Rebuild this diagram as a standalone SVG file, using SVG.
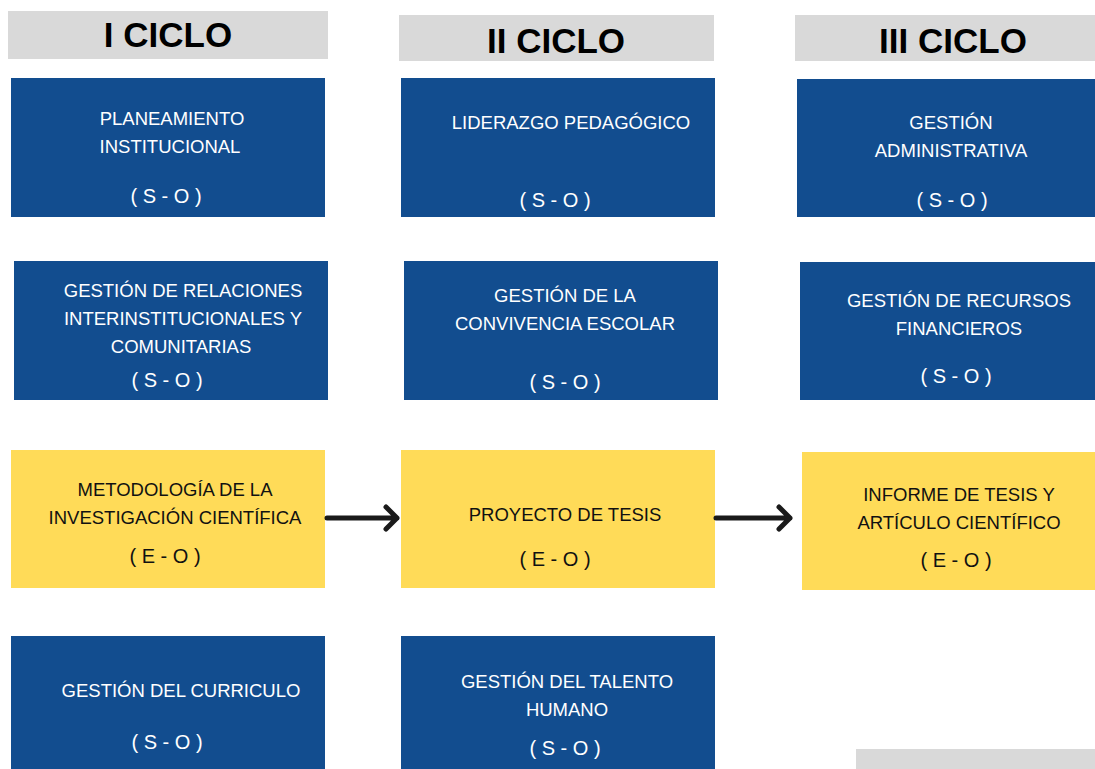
<svg xmlns="http://www.w3.org/2000/svg" width="1095" height="769" viewBox="0 0 1095 769">
<style>
.hdr{fill:#d9d9d9}
.hdrt{font-family:"Liberation Sans",Arial,sans-serif;font-weight:bold;font-size:35px;fill:#000;text-anchor:middle}
.blue{fill:#124d8f}
.yel{fill:#ffdb58}
.wt{font-family:"Liberation Sans",Arial,sans-serif;font-size:18.5px;fill:#fff;text-anchor:middle}
.bt{font-family:"Liberation Sans",Arial,sans-serif;font-size:18.5px;fill:#111;text-anchor:middle}
.tag{font-size:20px}
.conn{fill:none;stroke:#1a1a1a;stroke-width:5;stroke-linecap:round;stroke-linejoin:round}
</style>
<rect width="1095" height="769" fill="#fff"/>
<g id="h1"><rect class="hdr" x="8" y="11" width="320" height="48"/><text class="hdrt" x="168" y="47">I CICLO</text></g>
<g id="h2"><rect class="hdr" x="399" y="15" width="315" height="46"/><text class="hdrt" x="556" y="53">II CICLO</text></g>
<g id="h3"><rect class="hdr" x="795" y="15" width="300" height="46"/><text class="hdrt" x="953" y="53">III CICLO</text></g>

<g id="n11"><rect class="blue" x="11" y="78" width="314" height="139"/><text class="wt" x="172" y="125">PLANEAMIENTO</text><text class="wt" x="170" y="153">INSTITUCIONAL</text><text class="wt tag" x="166" y="203">( S - O )</text></g>
<g id="n12"><rect class="blue" x="401" y="78" width="314" height="139"/><text class="wt" x="571" y="129">LIDERAZGO PEDAGÓGICO</text><text class="wt tag" x="555" y="207">( S - O )</text></g>
<g id="n13"><rect class="blue" x="797" y="79" width="298" height="138"/><text class="wt" x="951" y="129">GESTIÓN</text><text class="wt" x="951" y="157">ADMINISTRATIVA</text><text class="wt tag" x="952" y="207">( S - O )</text></g>

<g id="n21"><rect class="blue" x="14" y="261" width="314" height="139"/><text class="wt" x="183" y="297">GESTIÓN DE RELACIONES</text><text class="wt" x="183" y="325">INTERINSTITUCIONALES Y</text><text class="wt" x="181" y="353">COMUNITARIAS</text><text class="wt tag" x="167" y="387">( S - O )</text></g>
<g id="n22"><rect class="blue" x="404" y="261" width="314" height="139"/><text class="wt" x="565" y="302">GESTIÓN DE LA</text><text class="wt" x="565" y="330">CONVIVENCIA ESCOLAR</text><text class="wt tag" x="565" y="389">( S - O )</text></g>
<g id="n23"><rect class="blue" x="800" y="262" width="295" height="138"/><text class="wt" x="959" y="307">GESTIÓN DE RECURSOS</text><text class="wt" x="959" y="335">FINANCIEROS</text><text class="wt tag" x="956" y="383">( S - O )</text></g>

<g id="n31"><rect class="yel" x="11" y="450" width="314" height="138"/><text class="bt" x="175" y="496">METODOLOGÍA DE LA</text><text class="bt" x="175" y="524">INVESTIGACIÓN CIENTÍFICA</text><text class="bt tag" x="165" y="563">( E - O )</text></g>
<g id="n32"><rect class="yel" x="401" y="450" width="314" height="138"/><text class="bt" x="565" y="521">PROYECTO DE TESIS</text><text class="bt tag" x="555" y="566">( E - O )</text></g>
<g id="n33"><rect class="yel" x="802" y="452" width="293" height="138"/><text class="bt" x="959" y="501">INFORME DE TESIS Y</text><text class="bt" x="959" y="529">ARTÍCULO CIENTÍFICO</text><text class="bt tag" x="956" y="567">( E - O )</text></g>

<g id="n41"><rect class="blue" x="11" y="636" width="314" height="140"/><text class="wt" x="181" y="697">GESTIÓN DEL CURRICULO</text><text class="wt tag" x="167" y="749">( S - O )</text></g>
<g id="n42"><rect class="blue" x="401" y="636" width="314" height="140"/><text class="wt" x="567" y="688">GESTIÓN DEL TALENTO</text><text class="wt" x="567" y="716">HUMANO</text><text class="wt tag" x="565" y="755">( S - O )</text></g>
<g id="n43"><rect class="hdr" x="856" y="749" width="239" height="30"/></g>

<g id="connectors">
<path class="conn" d="M327 518 H397 M386 507 L397 518 L386 529"/>
<path class="conn" d="M716 518 H790 M779 507 L790 518 L779 529"/>
</g>
</svg>
